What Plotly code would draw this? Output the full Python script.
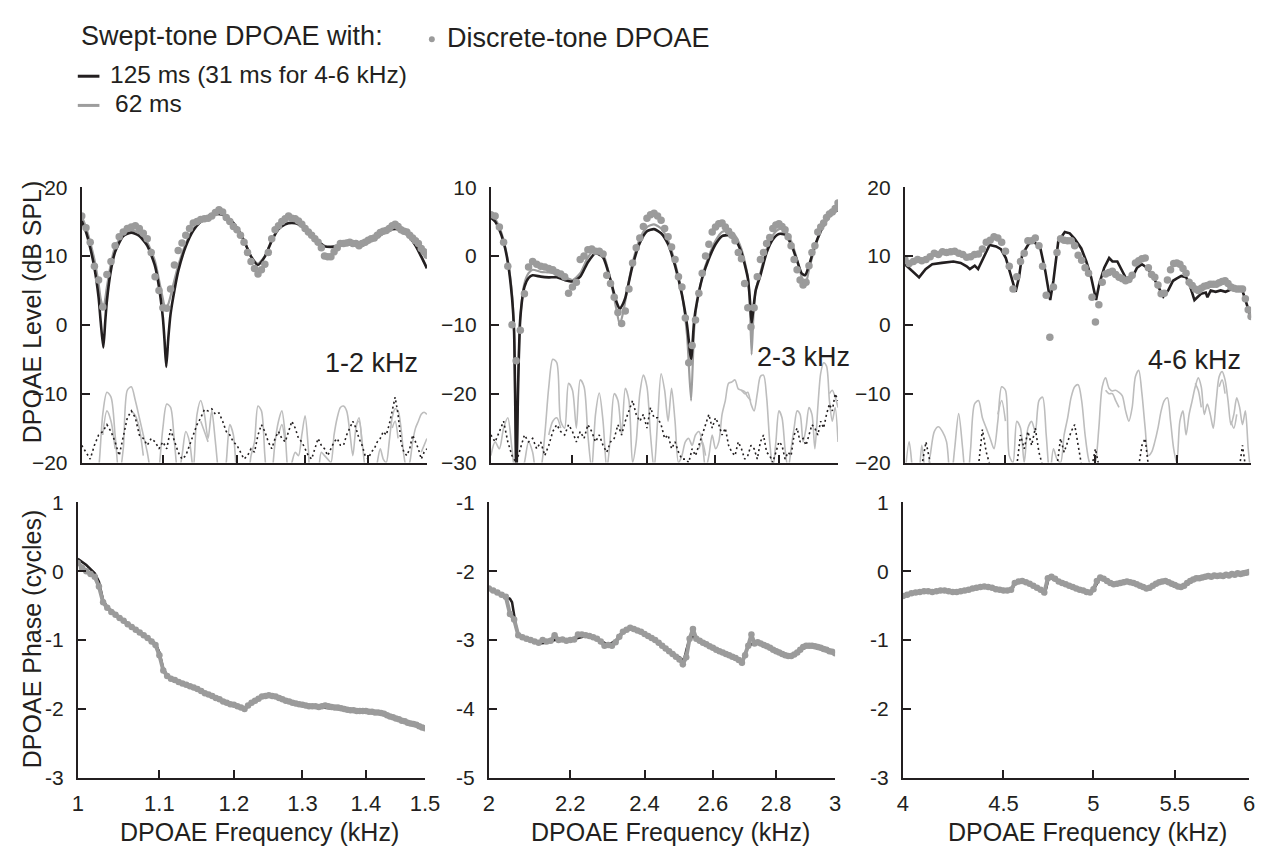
import math
import plotly.graph_objects as go

# ------------------------------------------------------------------ DATA
# ---- Panel 1 : 1-2 kHz (1.0 - 1.5 kHz) ----
p1_line_f = [1.000,1.005,1.010,1.015,1.020,1.0225,1.0257,1.028,1.030,1.035,1.040,1.050,1.060,1.070,1.080,1.090,
             1.095,1.100,1.102,1.1044,1.107,1.110,1.115,1.120,1.130,1.140,1.150,1.160,1.170,1.180,1.190,1.200,
             1.210,1.220,1.230,1.240,1.250,1.260,1.270,1.280,1.290,1.300,1.310,1.320,1.330,1.340,1.350,1.360,
             1.370,1.380,1.390,1.400,1.410,1.420,1.430,1.440,1.450,1.460,1.470,1.480,1.490,1.500]
p1_black_db = [15.1,13.5,11.2,8.3,4.0,0.5,-3.3,0.5,3.5,8.0,10.6,12.9,13.4,12.9,11.5,8.5,
               5.5,1.0,-2.0,-6.1,-2.0,1.6,5.0,7.8,11.4,13.7,15.0,15.8,16.1,16.0,15.3,14.1,
               12.2,9.9,8.7,9.9,12.2,13.9,14.6,14.8,14.6,13.9,12.9,12.1,11.4,11.3,11.4,11.6,
               11.7,11.8,11.8,12.0,12.5,13.0,13.6,13.9,13.9,13.5,12.7,11.5,9.9,8.2]
p1_grey_db = [15.8,14.2,12.0,9.5,6.0,3.8,2.4,3.8,5.5,9.0,11.3,13.3,13.8,13.3,12.0,9.2,
              6.5,3.8,2.8,2.4,3.0,4.2,6.5,8.6,11.8,13.9,15.1,15.8,16.2,16.1,15.4,14.2,
              12.3,10.0,8.9,10.0,12.3,14.0,14.7,14.9,14.7,14.0,13.0,12.2,11.5,11.4,11.5,11.7,
              11.8,11.9,11.9,12.1,12.6,13.1,13.7,14.0,14.0,13.6,12.8,11.6,10.0,8.3]
p1_grid_f = [1.000,1.005,1.010,1.015,1.020,1.025,1.030,1.035,1.040,1.045,
             1.050,1.055,1.060,1.065,1.070,1.075,1.080,1.085,1.090,1.095,
             1.100,1.105,1.110,1.115,1.120,1.125,1.130,1.135,1.140,1.145,
             1.150,1.155,1.160,1.165,1.170,1.175,1.180,1.185,1.190,1.195,
             1.200,1.205,1.210,1.215,1.220,1.225,1.230,1.235,1.240,1.245,
             1.250,1.255,1.260,1.265,1.270,1.275,1.280,1.285,1.290,1.295,
             1.300,1.305,1.310,1.315,1.320,1.325,1.330,1.335,1.340,1.345,
             1.350,1.355,1.360,1.365,1.370,1.375,1.380,1.385,1.390,1.395,
             1.400,1.405,1.410,1.415,1.420,1.425,1.430,1.435,1.440,1.445,
             1.450,1.455,1.460,1.465,1.470,1.475,1.480,1.485,1.490,1.495,
             1.500]
p1_dots_db = [15.8,14.1,12.0,8.5,6.5,2.6,7.3,9.2,11.5,12.8,
              13.5,14.0,14.2,14.4,14.0,13.3,12.5,10.5,7.0,5.0,
              2.5,2.4,5.2,8.7,10.8,11.9,13.0,14.0,14.8,15.0,
              15.3,15.4,15.5,15.8,16.3,16.7,16.4,15.6,15.0,14.3,
              13.8,13.0,12.0,10.5,9.2,8.2,7.4,8.0,8.8,10.5,
              12.5,13.8,14.4,15.0,15.4,15.8,15.5,15.4,15.1,14.6,
              14.0,13.5,13.0,12.5,12.0,11.2,10.0,9.9,9.9,10.6,
              11.2,11.8,11.8,11.9,12.0,11.8,11.8,11.5,11.8,12.0,
              12.3,12.5,12.6,13.0,13.4,13.6,13.7,14.0,14.4,14.6,
              14.3,13.8,13.6,13.5,13.0,12.6,12.2,11.8,11.1,10.6,
              10.1]
p1_noise_a = [-25,-25,-25,-24,-21,-13,-9.8,-10.5,-16,-22,
              -18,-9.5,-9.0,-11,-13.5,-16,-18.5,-22,-25,-21,
              -15,-11.5,-12,-17,-22,-19,-15.5,-17,-21,-13,
              -11.0,-13,-16.5,-12.5,-17,-22,-24,-20,-14.5,-16,
              -22,-24,-24,-23,-19,-17,-11.8,-12.5,-19,-24,
              -22,-17,-14,-12.5,-16,-22,-20,-18.5,-19,-16,
              -13.2,-18,-24,-24,-22,-18.5,-19,-19.5,-20,-16,
              -13.5,-12.0,-11.8,-12.5,-15.5,-19,-15,-13.5,-17,-21,
              -24,-24,-23,-20,-18,-19.5,-20,-17,-13.5,-12.2,
              -12.5,-15,-19,-21,-20,-17,-15,-14,-13,-12.7,
              -13]
p1_noise_dot = [-17.5,-18.5,-19.5,-17.5,-16.0,-15.5,-14.5,-15.5,-17,-19,
                -16,-13.5,-12.5,-13.5,-16,-16.5,-17.5,-16.5,-17,-18,
                -17,-18,-15.2,-17,-18.5,-19.5,-19,-17.5,-16,-14.5,
                -13.5,-12.3,-12.5,-12.2,-13,-12.8,-14,-15.5,-16,-17,
                -17.5,-18.5,-19.5,-19,-18,-18.5,-16,-14.5,-15.5,-17,
                -18,-16.5,-15.5,-16.5,-17,-15.5,-14,-15,-16.5,-17,
                -18,-19,-19.5,-18,-16.5,-17.5,-18,-19,-18,-17,
                -16.5,-17.5,-17.5,-16,-15,-14,-15,-16.5,-17.5,-19,
                -19.5,-18.5,-18,-17,-16.5,-15.5,-16,-14.5,-12.5,-10.5,
                -13,-17,-18.5,-19,-18,-16,-17,-18,-19.5,-18.5,
                -18]
p1_noise_b_f = [1.025,1.030,1.035,1.040,None,1.060,1.065,1.070,1.075,None,1.150,1.155,1.160,None,
                1.260,1.265,1.270,None,1.380,1.385,1.390,None,1.440,1.445,1.450,None,1.490,1.495,1.500]
p1_noise_b_db = [-16,-12.5,-14,-18,None,-12.5,-13.2,-15,-19,None,-14,-15.5,-17,None,
                 -16,-14.5,-17,None,-14.5,-14,-17.5,None,-15,-14,-16.5,None,-18.5,-17.5,-16.5]
p1_phase_line_f = [1.000,1.010,1.020,1.025,1.030,1.035,1.040,1.050,1.060,1.070,1.080,1.090,1.095,1.100,
                   1.105,1.110,1.120,1.130,1.140,1.150,1.160,1.170,1.180,1.190,1.200,1.210,1.215,1.220,
                   1.230,1.240,1.250,1.260,1.270,1.280,1.290,1.300,1.310,1.320,1.330,1.340,1.350,1.360,
                   1.370,1.380,1.390,1.400,1.410,1.420,1.430,1.440,1.450,1.460,1.470,1.480,1.490,1.500]
p1_phase_black = [0.18,0.09,-0.03,-0.15,-0.42,-0.52,-0.58,-0.67,-0.76,-0.84,-0.92,-1.00,-1.05,-1.18,
                  -1.42,-1.51,-1.58,-1.63,-1.66,-1.71,-1.77,-1.81,-1.86,-1.91,-1.94,-1.98,-1.99,-1.95,
                  -1.88,-1.82,-1.80,-1.82,-1.86,-1.89,-1.92,-1.94,-1.96,-1.97,-1.98,-1.98,-1.99,-2.00,
                  -2.01,-2.02,-2.03,-2.04,-2.04,-2.05,-2.07,-2.11,-2.14,-2.17,-2.20,-2.22,-2.25,-2.28]
p1_phase_dots = [0.12,0.05,0.00,-0.04,-0.08,-0.22,-0.45,-0.53,-0.59,-0.63,
                 -0.68,-0.72,-0.77,-0.81,-0.85,-0.89,-0.93,-0.97,-1.02,-1.07,
                 -1.22,-1.44,-1.52,-1.56,-1.58,-1.61,-1.63,-1.65,-1.67,-1.69,
                 -1.71,-1.74,-1.77,-1.79,-1.81,-1.84,-1.86,-1.89,-1.91,-1.93,
                 -1.94,-1.96,-1.98,-2.00,-1.95,-1.91,-1.88,-1.85,-1.82,-1.81,
                 -1.80,-1.81,-1.82,-1.84,-1.86,-1.88,-1.89,-1.91,-1.92,-1.93,
                 -1.94,-1.95,-1.96,-1.96,-1.96,-1.97,-1.96,-1.95,-1.96,-1.97,
                 -1.98,-1.98,-1.99,-2.00,-2.01,-2.02,-2.02,-2.03,-2.03,-2.03,
                 -2.03,-2.04,-2.04,-2.05,-2.05,-2.06,-2.07,-2.09,-2.11,-2.12,
                 -2.14,-2.15,-2.17,-2.18,-2.20,-2.21,-2.22,-2.23,-2.25,-2.27,
                 -2.28]

# ---- Panel 2 : 2-3 kHz ----
p2_line_f = [2.000,2.010,2.020,2.030,2.040,2.050,2.055,2.0605,2.065,2.070,2.080,2.090,2.100,2.120,2.140,
             2.160,2.180,2.200,2.220,2.240,2.260,2.280,2.300,2.315,2.325,2.335,2.340,2.360,2.380,2.400,
             2.420,2.440,2.460,2.480,2.500,2.515,2.527,2.535,2.540,2.560,2.580,2.600,2.620,2.640,2.660,
             2.680,2.700,2.706,2.712,2.718,2.725,2.740,2.760,2.780,2.800,2.820,2.840,2.860,2.875,2.887,
             2.900,2.920,2.940,2.960,2.980,3.000]
p2_black_db = [5.6,5.0,3.8,2.0,-0.9,-6.0,-11,-32,-18,-9.0,-4.5,-3.2,-2.8,-3.0,-3.1,
               -3.1,-3.5,-3.7,-3.0,-0.9,0.4,-0.2,-3.5,-6.5,-7.7,-6.8,-6.1,-1.4,1.9,3.6,
               3.9,3.3,1.7,-1.4,-5.6,-10,-15,-10,-7.9,-3.2,-0.4,1.7,2.9,3.0,2.4,
               0.5,-3.2,-6.0,-9.8,-7.5,-5.0,-2.8,0.5,2.4,3.2,3.1,1.7,-0.7,-2.5,-2.8,
               -1.4,1.5,3.6,5.2,6.2,6.7]
p2_grey_db = [6.0,5.4,4.2,2.3,-0.6,-5.5,-11,-32,-18,-9.0,-4.0,-2.5,-2.0,-2.3,-2.4,
              -2.6,-3.0,-3.5,-2.5,-0.2,1.0,0.3,-3.5,-7.5,-10.0,-8.0,-6.5,-1.0,2.5,4.2,
              4.6,4.0,2.3,-1.0,-5.5,-11.5,-21.0,-11.5,-8.3,-3.0,0.0,2.2,3.5,3.7,3.0,
              1.0,-3.0,-6.5,-14.3,-8.5,-5.0,-2.4,1.0,3.0,3.9,3.8,2.2,-0.5,-3.0,-4.4,
              -2.0,1.2,3.6,5.3,6.3,6.8]
p2_grid_f = [2.00,2.01,2.02,2.03,2.04,2.05,2.06,2.07,2.08,2.09,
             2.10,2.11,2.12,2.13,2.14,2.15,2.16,2.17,2.18,2.19,
             2.20,2.21,2.22,2.23,2.24,2.25,2.26,2.27,2.28,2.29,
             2.30,2.31,2.32,2.33,2.34,2.35,2.36,2.37,2.38,2.39,
             2.40,2.41,2.42,2.43,2.44,2.45,2.46,2.47,2.48,2.49,
             2.50,2.51,2.52,2.53,2.54,2.55,2.56,2.57,2.58,2.59,
             2.60,2.61,2.62,2.63,2.64,2.65,2.66,2.67,2.68,2.69,
             2.70,2.71,2.72,2.73,2.74,2.75,2.76,2.77,2.78,2.79,
             2.80,2.81,2.82,2.83,2.84,2.85,2.86,2.87,2.88,2.89,
             2.90,2.91,2.92,2.93,2.94,2.95,2.96,2.97,2.98,2.99,
             3.00]
p2_dots_db = [6.0,5.8,4.2,2.0,-1.5,-10,-15.2,-10.8,-5.5,-1.6,
              -0.8,-1.2,-1.5,-1.6,-1.8,-2.0,-2.4,-2.6,-3.0,-5.4,
              -4.5,-3.8,-0.5,0.0,0.9,1.0,0.7,0.7,0.3,-2.8,
              -4.0,-6.0,-8.2,-9.8,-8.0,-4.8,-1.0,1.2,2.6,4.3,
              5.5,6.0,6.2,5.8,5.2,4.0,2.8,1.3,-0.5,-3.0,
              -4.5,-9.0,-15.5,-13.0,-9.3,-5.4,-2.5,0.0,1.7,3.5,
              4.2,4.7,4.8,4.2,3.6,3.0,2.2,0.5,-0.4,-4.0,
              -7.5,-10.3,-7.5,-3.0,-0.5,0.5,1.8,2.7,4.0,4.5,
              4.7,4.3,3.8,2.8,1.5,-0.5,-2.0,-3.5,-4.2,-3.8,
              -1.4,0.5,1.5,3.5,4.2,4.8,5.6,6.1,6.4,6.9,
              7.7]
p2_noise_a = [-29,-27,-28,-25,-23.5,-28,-32,-32,-30,-27,
              -28.5,-32,-31,-26,-19,-15,-15.5,-24,-25,-18.5,
              -19.5,-25,-18,-19,-26,-31,-23,-19.9,-24,-31,
              -26,-20,-21,-26,-19.2,-21,-30,-27,-20,-17.3,
              -19,-26,-31,-24,-17.1,-19.5,-24,-19.2,-24,-30,
              -29,-27,-26.5,-27.5,-26,-25.5,-27,-31,-29,-26,
              -28,-27,-23,-21,-18.5,-18.3,-18,-19.3,-19.5,-20,
              -19.8,-21.5,-22.5,-20,-17.5,-17.3,-20.5,-27,-31,-27,
              -22.5,-23.5,-28,-31,-28,-25,-22.5,-23,-27,-25,
              -22,-23,-28,-22,-17,-15.5,-16,-21,-24,-22,
              -27]
p2_noise_dot = [-26,-27,-25.5,-24,-27,-29,-30,-28,-26,-27,
                -26.5,-28,-27,-29,-27.5,-25.5,-24.5,-25.5,-26,-24.5,
                -25.5,-27,-25.5,-26.5,-24.5,-25.5,-27,-26,-27.5,-28.5,
                -27,-26.5,-24.5,-26,-24,-22.5,-21,-23,-24,-23,
                -25,-22,-23.5,-23.5,-24.5,-26.5,-26,-28,-27,-28.5,
                -29.5,-29.5,-30,-28,-29,-27.5,-26,-24.5,-23,-25,
                -23.5,-24.5,-26,-25,-27.5,-28.5,-29,-27,-28,-29.5,
                -29,-27.5,-28,-29.5,-27,-26,-28.5,-29,-30,-28.5,
                -27,-27.5,-29.5,-28.5,-29,-26,-25,-27,-26.5,-27.5,
                -26,-24.5,-25,-26,-24,-25,-23,-21.5,-22.5,-20,
                -21]
p2_noise_b_f = [2.14,2.15,2.16,2.17,None,2.55,2.56,2.57,None,2.68,2.69,2.70,2.71,None,2.97,2.98,2.99,3.00]
p2_noise_b_db = [-26,-24,-23.5,-25,None,-28,-27,-29,None,-19.5,-19.7,-20.5,-21,None,-20,-19.5,-20.5,-22]
p2_phase_line_f = [2.000,2.020,2.040,2.050,2.055,2.060,2.065,2.070,2.080,2.100,2.120,2.140,2.160,2.180,2.200,
                   2.220,2.240,2.260,2.280,2.300,2.320,2.340,2.360,2.380,2.400,2.420,2.440,2.460,2.480,2.500,
                   2.510,2.515,2.520,2.530,2.540,2.560,2.580,2.600,2.620,2.640,2.660,2.680,2.690,2.700,2.710,
                   2.720,2.740,2.760,2.780,2.800,2.820,2.840,2.860,2.880,2.900,2.920,2.940,2.960,2.980,3.000]
p2_phase_black = [-2.25,-2.31,-2.36,-2.40,-2.45,-2.62,-2.82,-2.92,-2.97,-3.01,-3.05,-3.04,-3.00,-3.00,-3.00,
                  -2.97,-2.94,-2.97,-3.01,-3.07,-3.01,-2.87,-2.84,-2.86,-2.91,-2.97,-3.04,-3.12,-3.19,-3.25,
                  -3.29,-3.28,-3.15,-2.98,-2.95,-3.01,-3.06,-3.11,-3.16,-3.20,-3.24,-3.29,-3.32,-3.20,-3.08,
                  -3.06,-3.04,-3.07,-3.11,-3.16,-3.20,-3.23,-3.22,-3.15,-3.08,-3.08,-3.10,-3.13,-3.16,-3.19]
p2_phase_dots = [-2.25,-2.28,-2.31,-2.34,-2.37,-2.62,-2.70,-2.93,-2.96,-2.98,
                 -3.00,-3.02,-3.04,-3.00,-3.02,-3.01,-2.93,-3.00,-2.99,-3.01,
                 -3.00,-2.99,-2.92,-2.92,-2.93,-2.94,-2.96,-2.98,-3.02,-3.08,
                 -3.07,-3.08,-3.03,-2.95,-2.88,-2.85,-2.82,-2.84,-2.86,-2.88,
                 -2.91,-2.94,-2.97,-3.00,-3.04,-3.08,-3.12,-3.16,-3.20,-3.24,
                 -3.28,-3.35,-3.25,-2.98,-2.84,-2.98,-3.01,-3.04,-3.06,-3.09,
                 -3.11,-3.14,-3.16,-3.18,-3.20,-3.22,-3.24,-3.26,-3.29,-3.33,
                 -3.22,-3.08,-2.92,-3.05,-3.03,-3.05,-3.07,-3.09,-3.11,-3.14,
                 -3.16,-3.18,-3.20,-3.22,-3.23,-3.23,-3.21,-3.18,-3.14,-3.10,
                 -3.08,-3.08,-3.08,-3.09,-3.10,-3.11,-3.13,-3.14,-3.16,-3.17,
                 -3.19]

# ---- Panel 3 : 4-6 kHz ----
p3_line_f = [4.000,4.030,4.067,4.098,4.130,4.177,4.234,4.270,4.300,4.316,4.341,4.358,4.383,4.417,4.451,
             4.476,4.502,4.528,4.554,4.572,4.589,4.625,4.652,4.688,4.715,4.742,4.760,4.787,4.824,4.852,
             4.880,4.918,4.947,4.975,5.004,5.023,5.052,5.081,5.101,5.130,5.160,5.190,5.219,5.250,5.280,
             5.311,5.341,5.382,5.414,5.445,5.476,5.498,5.529,5.561,5.582,5.615,5.636,5.658,5.690,5.701,
             5.723,5.756,5.790,5.823,5.868,5.902,5.936,5.959,5.982,6.000]
p3_black_db = [8.8,8.0,6.9,8.1,8.8,9.0,9.2,9.0,8.5,8.1,8.6,8.1,9.7,11.6,11.4,
               11.0,9.7,7.4,4.8,6.9,10.2,11.8,12.1,11.1,7.8,3.6,6.4,12.1,13.5,13.3,
               12.5,11.1,9.2,6.9,3.6,6.0,8.3,9.7,9.2,9.2,7.8,6.4,6.8,8.3,8.8,
               8.3,7.4,5.5,4.1,5.0,6.4,6.7,7.1,6.9,5.9,3.6,4.1,4.5,4.7,4.0,
               5.0,4.8,5.0,4.8,5.2,5.4,5.2,3.6,2.2,1.0]
p3_grid_f = [4.00,4.02,4.04,4.06,4.08,4.10,4.12,4.14,4.16,4.18,
             4.20,4.22,4.24,4.26,4.28,4.30,4.32,4.34,4.36,4.38,
             4.40,4.42,4.44,4.46,4.48,4.50,4.52,4.54,4.56,4.58,
             4.60,4.62,4.64,4.66,4.68,4.70,4.72,4.74,4.76,4.78,
             4.80,4.82,4.84,4.86,4.88,4.90,4.92,4.94,4.96,4.98,
             5.00,5.02,5.04,5.06,5.08,5.10,5.12,5.14,5.16,5.18,
             5.20,5.22,5.24,5.26,5.28,5.30,5.32,5.34,5.36,5.38,
             5.40,5.42,5.44,5.46,5.48,5.50,5.52,5.54,5.56,5.58,
             5.60,5.62,5.64,5.66,5.68,5.70,5.72,5.74,5.76,5.78,
             5.80,5.82,5.84,5.86,5.88,5.90,5.92,5.94,5.96,5.98,
             6.00]
p3_dots_db = [9.5,8.9,9.2,9.5,9.3,9.5,9.9,10.4,10.2,10.6,
              10.5,10.6,10.7,10.4,10.2,9.8,9.9,10.2,10.3,11.0,
              12.0,12.3,12.8,12.6,12.0,10.7,8.5,5.2,7.0,9.2,
              10.4,12.2,12.2,12.6,11.5,8.5,4.3,-1.8,5.5,10.5,
              12.5,12.3,12.2,12.2,11.5,10.1,9.4,8.3,7.5,4.0,
              0.4,2.9,6.2,7.4,7.6,7.8,7.3,6.9,6.7,6.4,
              6.6,7.2,9.0,9.3,9.6,9.7,8.3,7.3,6.9,5.8,
              4.5,4.6,6.5,8.0,8.9,9.0,8.8,8.2,7.5,6.2,
              5.7,5.2,5.0,5.3,5.6,5.7,5.9,5.9,5.9,6.1,
              6.3,6.4,6.0,5.5,5.3,5.2,5.2,5.2,3.8,2.2,
              1.2]
p3_noise_a = [-22,-17,-22,-24,-17.5,-22,-19,-15.5,-14.8,-15.5,
              -17,-23,-18,-12.9,-18,-24,-18,-11.5,-11,-13.5,
              -15,-16.5,-18,-14,-9,-9.5,-19,-20,-14,-15,
              -20,-15,-14,-15.5,-11,-10.5,-16,-22,-18,-19.5,
              -20,-16,-13.5,-10.5,-9,-8.7,-11,-16,-19.5,-21,
              -20,-15,-9,-7.7,-9.2,-9.6,-9.5,-9.8,-10.3,-12.5,
              -14,-12,-7.5,-6.6,-10,-15,-19,-18.5,-17,-15,
              -12.5,-11,-10.6,-14,-18,-20,-14,-12.5,-16,-13,
              -11,-9,-7.7,-9,-13,-11.5,-13,-15,-11,-7.5,
              -6.8,-8,-11,-14.5,-13,-10.6,-12,-14.5,-12.5,-18,
              -22]
p3_noise_b_f = [4.46,4.48,4.50,None,5.06,5.08,5.10,5.12,5.14,None,5.62,5.64,5.66,None,5.78,5.80,5.82,None,5.86,5.88,5.90]
p3_noise_b_db = [-13,-11,-14,None,-9.5,-10,-10,-11,-12,None,-8.5,-9.5,-12,None,-9,-8,-10,None,-14,-15,-13]
p3_noise_dot_f = [4.08,4.10,4.12,None,4.36,4.38,4.40,4.42,None,4.56,4.58,4.60,4.62,4.64,4.66,4.68,4.70,None,
                  4.78,4.80,4.82,4.84,4.86,4.88,4.90,4.92,None,4.98,5.00,5.02,None,5.26,5.28,5.30,5.32,None,
                  5.92,5.94,5.96]
p3_noise_dot_db = [-20.5,-17,-20,None,-20.5,-15.2,-18.5,-20.5,None,-20.5,-16,-18,-15.5,-17.5,-15,-18.5,-20.5,None,
                   -20.5,-16.5,-18.5,-17,-15.5,-14.5,-17.5,-20.5,None,-20.5,-18,-20.5,None,-20.5,-17.5,-16.5,-20.5,None,
                   -20.5,-17.5,-20.5]
p3_phase_line_f = [4.00,4.05,4.10,4.15,4.20,4.25,4.30,4.35,4.40,4.45,4.50,4.545,4.56,4.60,4.65,4.70,4.725,4.745,
                   4.80,4.85,4.90,4.95,4.99,5.04,5.08,5.12,5.16,5.20,5.24,5.28,5.32,5.36,5.40,5.44,5.48,5.52,
                   5.56,5.60,5.64,5.68,5.72,5.76,5.80,5.84,5.88,5.92,5.96,6.00]
p3_phase_black = [-0.35,-0.31,-0.29,-0.29,-0.28,-0.30,-0.28,-0.25,-0.22,-0.25,-0.28,-0.28,-0.16,-0.14,-0.19,-0.26,-0.31,-0.09,
                  -0.15,-0.20,-0.25,-0.28,-0.31,-0.10,-0.14,-0.19,-0.17,-0.16,-0.17,-0.21,-0.25,-0.20,-0.16,-0.14,-0.17,-0.21,
                  -0.21,-0.14,-0.10,-0.08,-0.06,-0.05,-0.06,-0.05,-0.04,-0.04,-0.03,-0.01]
p3_phase_dots = [-0.36,-0.34,-0.32,-0.31,-0.30,-0.29,-0.29,-0.30,-0.29,-0.28,
                 -0.28,-0.29,-0.30,-0.30,-0.29,-0.28,-0.27,-0.25,-0.24,-0.23,
                 -0.22,-0.23,-0.24,-0.26,-0.27,-0.28,-0.28,-0.27,-0.17,-0.15,
                 -0.14,-0.16,-0.18,-0.21,-0.24,-0.27,-0.31,-0.10,-0.08,-0.11,
                 -0.15,-0.17,-0.19,-0.21,-0.23,-0.25,-0.27,-0.28,-0.30,-0.31,
                 -0.26,-0.14,-0.09,-0.11,-0.14,-0.17,-0.19,-0.18,-0.17,-0.16,
                 -0.15,-0.16,-0.17,-0.19,-0.21,-0.23,-0.25,-0.24,-0.21,-0.18,
                 -0.16,-0.15,-0.14,-0.16,-0.18,-0.20,-0.22,-0.23,-0.21,-0.17,
                 -0.14,-0.12,-0.10,-0.10,-0.09,-0.08,-0.07,-0.08,-0.06,-0.07,
                 -0.06,-0.07,-0.05,-0.06,-0.04,-0.05,-0.03,-0.04,-0.03,-0.02,
                 -0.01]

# axis ticks / labels
x_ticks = [[1, 1.1, 1.2, 1.3, 1.4, 1.5], [2, 2.2, 2.4, 2.6, 2.8, 3], [4, 4.5, 5, 5.5, 6]]
x_ticktext = [["1", "1.1", "1.2", "1.3", "1.4", "1.5"], ["2", "2.2", "2.4", "2.6", "2.8", "3"],
              ["4", "4.5", "5", "5.5", "6"]]
x_ranges = [[1, 1.5], [2, 3], [4, 6]]
level_ranges = [[-20, 20], [-30, 10], [-20, 20]]
level_ticks = [[-20, -10, 0, 10, 20], [-30, -20, -10, 0, 10], [-20, -10, 0, 10, 20]]
phase_ranges = [[-3, 1], [-5, -1], [-3, 1]]
phase_ticks = [[-3, -2, -1, 0, 1], [-5, -4, -3, -2, -1], [-3, -2, -1, 0, 1]]
panel_labels = ["1-2 kHz", "2-3 kHz", "4-6 kHz"]

# sanity checks
for a, b in [(p1_line_f, p1_black_db), (p1_line_f, p1_grey_db), (p1_grid_f, p1_dots_db), (p1_grid_f, p1_noise_a),
             (p1_grid_f, p1_noise_dot), (p1_noise_b_f, p1_noise_b_db), (p1_phase_line_f, p1_phase_black),
             (p1_grid_f, p1_phase_dots), (p2_line_f, p2_black_db), (p2_line_f, p2_grey_db), (p2_grid_f, p2_dots_db),
             (p2_grid_f, p2_noise_a), (p2_grid_f, p2_noise_dot), (p2_noise_b_f, p2_noise_b_db),
             (p2_phase_line_f, p2_phase_black), (p2_grid_f, p2_phase_dots), (p3_line_f, p3_black_db),
             (p3_grid_f, p3_dots_db), (p3_grid_f, p3_noise_a), (p3_noise_b_f, p3_noise_b_db),
             (p3_noise_dot_f, p3_noise_dot_db), (p3_phase_line_f, p3_phase_black), (p3_grid_f, p3_phase_dots)]:
    assert len(a) == len(b), (len(a), len(b))

# ------------------------------------------------------------------ STYLE
FONT = "Liberation Sans, Arial, Helvetica, sans-serif"
INK = "#231f20"
GREY_DOT = "#9b9b9b"
GREY_LINE = "#9d9d9d"
GREY_NOISE = "#bdbdbd"
W, H = 1271, 854


def px(x):
    return x / W


def py(y):
    return 1 - y / H


top_x = [[77, 428], [493, 846], [914, 1266]]
bot_x = [[73, 426], [491, 843], [912, 1264]]
top_y = [463, 180]
bot_y = [787, 504]

fig = go.Figure()

panels = [
    dict(line_f=p1_line_f, black=p1_black_db, grey=p1_grey_db, grid=p1_grid_f, dots=p1_dots_db,
         na_f=p1_grid_f, na=p1_noise_a, nb_f=p1_noise_b_f, nb=p1_noise_b_db, nd_f=p1_grid_f, nd=p1_noise_dot,
         ph_f=p1_phase_line_f, ph=p1_phase_black, ph_dots=p1_phase_dots, smooth=True),
    dict(line_f=p2_line_f, black=p2_black_db, grey=p2_grey_db, grid=p2_grid_f, dots=p2_dots_db,
         na_f=p2_grid_f, na=p2_noise_a, nb_f=p2_noise_b_f, nb=p2_noise_b_db, nd_f=p2_grid_f, nd=p2_noise_dot,
         ph_f=p2_phase_line_f, ph=p2_phase_black, ph_dots=p2_phase_dots, smooth=True),
    dict(line_f=p3_line_f, black=p3_black_db, grey=None, grid=p3_grid_f, dots=p3_dots_db,
         na_f=p3_grid_f, na=p3_noise_a, nb_f=p3_noise_b_f, nb=p3_noise_b_db, nd_f=p3_noise_dot_f, nd=p3_noise_dot_db,
         ph_f=p3_phase_line_f, ph=p3_phase_black, ph_dots=p3_phase_dots, smooth=False),
]

for i, p in enumerate(panels):
    xt, yt = f"x{i + 1}", f"y{i + 1}"
    xb, yb = f"x{i + 4}", f"y{i + 4}"
    # noise floors
    fig.add_trace(go.Scatter(x=p["na_f"], y=p["na"], mode="lines", xaxis=xt, yaxis=yt,
                             line=dict(color=GREY_NOISE, width=1.6, shape="spline", smoothing=0.8)))
    fig.add_trace(go.Scatter(x=p["nb_f"], y=p["nb"], mode="lines", xaxis=xt, yaxis=yt, connectgaps=False,
                             line=dict(color=GREY_NOISE, width=1.6, shape="spline", smoothing=0.8)))
    fig.add_trace(go.Scatter(x=p["nd_f"], y=p["nd"], mode="lines", xaxis=xt, yaxis=yt, connectgaps=False,
                             line=dict(color=INK, width=1.6, dash="2px,3px")))
    # 62 ms sweep
    shape = dict(shape="spline", smoothing=0.6) if p["smooth"] else dict(shape="linear")
    if p["grey"] is not None:
        fig.add_trace(go.Scatter(x=p["line_f"], y=p["grey"], mode="lines", xaxis=xt, yaxis=yt,
                                 line=dict(color=GREY_LINE, width=2.2, **shape)))
    # 125 ms sweep
    fig.add_trace(go.Scatter(x=p["line_f"], y=p["black"], mode="lines", xaxis=xt, yaxis=yt,
                             line=dict(color=INK, width=2.6, **shape)))
    # discrete tones
    fig.add_trace(go.Scatter(x=p["grid"], y=p["dots"], mode="markers", xaxis=xt, yaxis=yt,
                             marker=dict(color=GREY_DOT, size=7.5, line=dict(width=0))))
    # phase
    fig.add_trace(go.Scatter(x=p["ph_f"], y=p["ph"], mode="lines", xaxis=xb, yaxis=yb,
                             line=dict(color=INK, width=2.5)))
    fig.add_trace(go.Scatter(x=p["grid"], y=p["ph_dots"], mode="lines+markers", xaxis=xb, yaxis=yb,
                             line=dict(color=GREY_DOT, width=4),
                             marker=dict(color=GREY_DOT, size=6.5, line=dict(width=0))))

axis_common = dict(showline=True, linecolor=INK, linewidth=2, ticks="inside", ticklen=8, tickwidth=2,
                   tickcolor=INK, showgrid=False, zeroline=False, tickmode="array",
                   tickfont=dict(family=FONT, size=21, color=INK))

layout = dict(width=W, height=H, margin=dict(l=0, r=0, t=0, b=0), paper_bgcolor="white",
              plot_bgcolor="white", showlegend=False, font=dict(family=FONT, color=INK))

for i in range(3):
    xr = [math.log10(x_ranges[i][0]), math.log10(x_ranges[i][1])]
    # top (level)
    layout[f"xaxis{i + 1}"] = dict(axis_common, type="log", range=xr, domain=[px(top_x[i][0]), px(top_x[i][1])],
                                   anchor=f"y{i + 1}", tickvals=x_ticks[i], ticktext=x_ticktext[i],
                                   showticklabels=False)
    layout[f"yaxis{i + 1}"] = dict(axis_common, range=level_ranges[i], domain=[py(top_y[0]), py(top_y[1])],
                                   anchor=f"x{i + 1}", tickvals=level_ticks[i],
                                   ticktext=[("\u2212" + str(abs(v))) if v < 0 else str(v) for v in level_ticks[i]],
                                   ticklabelstandoff=8)
    # bottom (phase)
    layout[f"xaxis{i + 4}"] = dict(axis_common, type="log", range=xr, domain=[px(bot_x[i][0]), px(bot_x[i][1])],
                                   anchor=f"y{i + 4}", tickvals=x_ticks[i], ticktext=x_ticktext[i],
                                   ticklabelstandoff=5,
                                   tickfont=dict(family=FONT, size=22, color=INK))
    layout[f"yaxis{i + 4}"] = dict(axis_common, range=phase_ranges[i], domain=[py(bot_y[0]), py(bot_y[1])],
                                   anchor=f"x{i + 4}", tickvals=phase_ticks[i],
                                   ticktext=[str(v) for v in phase_ticks[i]], ticklabelstandoff=8)

fig.update_layout(**layout)

ann = []


def text(x, y, s, size, xanchor="left", angle=0):
    ann.append(dict(x=px(x), y=py(y), xref="paper", yref="paper", text=s, showarrow=False,
                    xanchor=xanchor, yanchor="middle", textangle=angle,
                    font=dict(family=FONT, size=size, color=INK)))


# axis titles
text(26, 308, "DPOAE Level (dB SPL)", 25, "center", -90)
text(26, 645, "DPOAE Phase (cycles)", 25, "center", -90)
text(258, 843, "DPOAE Frequency (kHz)", 25, "center")
text(676, 843, "DPOAE Frequency (kHz)", 25, "center")
text(1100, 843, "DPOAE Frequency (kHz)", 25, "center")
# panel labels
text(421, 361, panel_labels[0], 27, "right")
text(860, 355, panel_labels[1], 27, "right")
text(1258, 358, panel_labels[2], 27, "right")
# legend
text(74, 25, "Swept-tone DPOAE with:", 27)
text(104, 64, "125 ms (31 ms for 4-6 kHz)", 24.5)
text(109, 94, "62 ms", 24.5)
text(446, 27, "Discrete-tone DPOAE", 27)

shapes = [
    dict(type="line", xref="paper", yref="paper", x0=px(73), x1=px(95), y0=py(66), y1=py(66),
         line=dict(color=INK, width=3)),
    dict(type="line", xref="paper", yref="paper", x0=px(73), x1=px(95), y0=py(96), y1=py(96),
         line=dict(color=GREY_LINE, width=3)),
    dict(type="circle", xref="paper", yref="paper", x0=px(430), x1=px(436), y0=py(31), y1=py(25),
         fillcolor=GREY_DOT, line=dict(width=0)),
]
fig.update_layout(annotations=ann, shapes=shapes)

fig.write_html("out.html")
